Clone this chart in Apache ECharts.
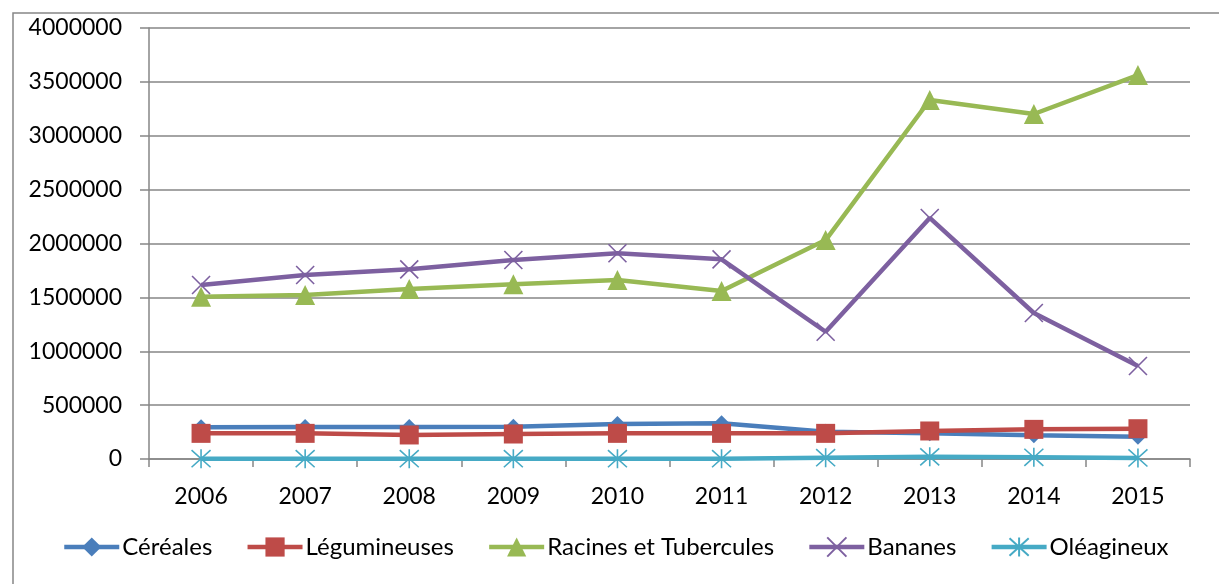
<!DOCTYPE html>
<html>
<head>
<meta charset="utf-8">
<script src="https://cdn.jsdelivr.net/npm/echarts@6/dist/echarts.min.js"></script>
<style>
  html, body { margin: 0; padding: 0; background: #fff; }
  #chart { width: 1219px; height: 584px; }
</style>
</head>
<body>
<div id="chart"></div>
<script>
// années
const years = ['2006', '2007', '2008', '2009', '2010', '2011', '2012', '2013', '2014', '2015'];

// production par filière
const cereales = [294000, 297000, 297000, 300000, 325000, 331000, 253000, 238000, 220000, 207000];
const legumineuses = [238000, 238000, 223000, 232000, 238000, 238000, 238000, 260000, 275000, 281000];
const racines = [1505000, 1522000, 1578000, 1621000, 1661000, 1559000, 2032000, 3332000, 3202000, 3563000];
const bananes = [1615000, 1708000, 1760000, 1847000, 1909000, 1853000, 1181000, 2237000, 1355000, 863000];
const oleagineux = [3000, 3000, 3000, 3000, 3000, 3000, 12000, 20000, 16000, 10000];

const seriesNames = ['Céréales', 'Légumineuses', 'Racines et Tubercules', 'Bananes', 'Oléagineux'];
const yTicks = { min: 0, max: 4000000, interval: 500000 };

const FONT = 'Lato';
const GRAY = '#868686';

const xPath = 'path://M0,0L20,20M20,0L0,20';
const starPath = 'path://M10,0L10,20M1,1L19,19M19,1L1,19';

const mkSeries = (name, data, color, symbol, size, stroked) => ({
    name: name,
    type: 'line',
    data: data,
    symbol: symbol,
    symbolSize: size,
    showSymbol: true,
    lineStyle: { color: color, width: 4.5 },
    itemStyle: stroked
        ? { color: color, borderColor: color, borderWidth: 1.6 }
        : { color: color, borderWidth: 0 },
    emphasis: { disabled: true },
    animation: false
});

const chart = echarts.init(document.getElementById('chart'));
const option = {
    backgroundColor: '#fff',
    animation: false,
    graphic: [{
        type: 'rect',
        shape: { x: 13, y: 13, width: 1240, height: 620 },
        style: { fill: 'none', stroke: GRAY, lineWidth: 1.5 },
        silent: true
    }],
    grid: { left: 149, right: 29, top: 28, bottom: 125, containLabel: false },
    legend: {
        data: seriesNames,
        left: 57,
        top: 530,
        itemWidth: 55,
        itemHeight: 24,
        itemGap: 33,
        lineStyle: { width: 4.5 },
        textStyle: { fontFamily: FONT, fontSize: 24, color: '#000', padding: [0, 0, 0, -2] }
    },
    xAxis: {
        type: 'category',
        data: years,
        boundaryGap: true,
        axisLine: { lineStyle: { color: GRAY, width: 1.5 } },
        axisTick: { show: true, length: 8, lineStyle: { color: GRAY, width: 1.5 } },
        axisLabel: { fontFamily: FONT, fontSize: 23, color: '#000', margin: 26 },
        splitLine: { show: false }
    },
    yAxis: {
        type: 'value',
        min: yTicks.min,
        max: yTicks.max,
        interval: yTicks.interval,
        axisLine: { show: true, lineStyle: { color: GRAY, width: 1.5 } },
        axisTick: { show: true, length: 9, lineStyle: { color: GRAY, width: 1.5 } },
        axisLabel: { fontFamily: FONT, fontSize: 23, color: '#000', margin: 27, formatter: v => String(v) },
        splitLine: { show: true, lineStyle: { color: GRAY, width: 1.5 } }
    },
    series: [
        mkSeries(seriesNames[0], cereales, '#4A7EBB', 'diamond', 16, false),
        mkSeries(seriesNames[1], legumineuses, '#BE4B48', 'rect', 19, false),
        mkSeries(seriesNames[2], racines, '#98B954', 'triangle', 20, false),
        mkSeries(seriesNames[3], bananes, '#7D60A0', xPath, 18, true),
        mkSeries(seriesNames[4], oleagineux, '#46AAC5', starPath, 19, true)
    ]
};
chart.setOption(option);
</script>
</body>
</html>
